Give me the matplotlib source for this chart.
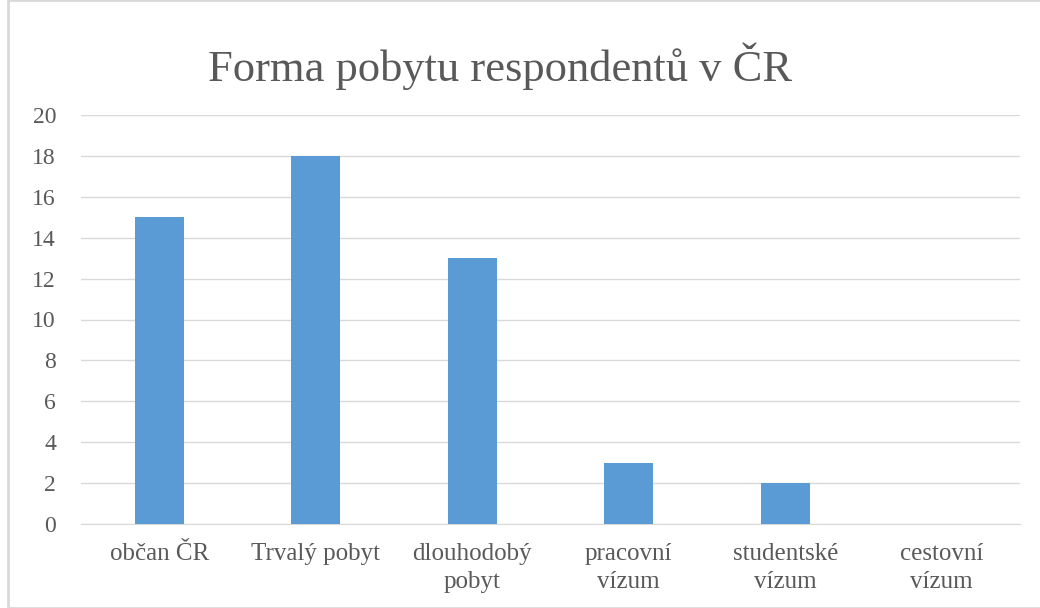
import matplotlib.pyplot as plt
from matplotlib.patches import Rectangle

categories = ['občan ČR', 'Trvalý pobyt', 'dlouhodobý\npobyt', 'pracovní\nvízum',
              'studentské\nvízum', 'cestovní\nvízum']
values = [15, 18, 13, 3, 2, 0]
y_ticks = list(range(0, 21, 2))

plt.rcParams['font.family'] = ['Liberation Serif', 'DejaVu Serif']
text_color = '#595959'

fig = plt.figure(figsize=(10.4, 6.08), dpi=100)
ax = fig.add_axes([81 / 1040, 1 - 524 / 608, (1020 - 81) / 1040, (524 - 115) / 608])

x = list(range(len(categories)))
ax.bar(x, values, width=0.31, color='#5B9BD5', zorder=3)

ax.set_xlim(-0.5, len(categories) - 0.5)
ax.set_ylim(0, 20)
ax.set_yticks(y_ticks)
ax.set_xticks(x)
ax.set_xticklabels(categories, fontsize=18, color=text_color, linespacing=1.35)
ax.tick_params(axis='y', labelsize=17, labelcolor=text_color, length=0, pad=18)
ax.tick_params(axis='x', length=0, pad=14)
ax.grid(axis='y', color='#D9D9D9', linewidth=1, zorder=0)
for s in ['left', 'right', 'top']:
    ax.spines[s].set_visible(False)
ax.spines['bottom'].set_color('#D9D9D9')

fig.text(500 / 1040, 1 - 66 / 608, 'Forma pobytu respondentů v ČR', ha='center', va='center',
         fontsize=32, color=text_color)

# chart border
fig.patches.append(Rectangle((8 / 1040, 0), 1.2, 1, transform=fig.transFigure,
                             fill=False, edgecolor='#D9D9D9', linewidth=2))

fig.savefig('out.png', dpi=100)
